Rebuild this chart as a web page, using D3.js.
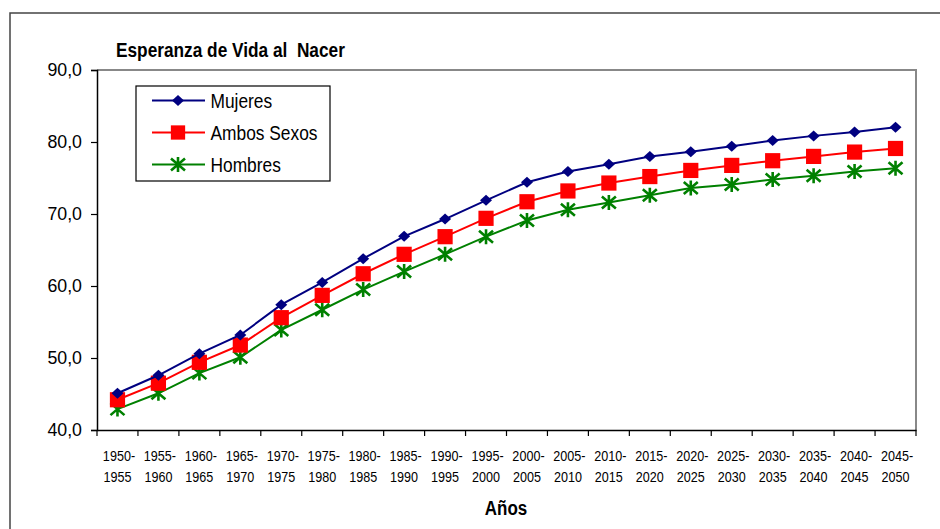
<!DOCTYPE html>
<html><head><meta charset="utf-8">
<script src="https://cdn.jsdelivr.net/npm/d3@7"></script>
<style>
body{margin:0;background:#fff;}
svg{display:block;}
text{font-family:"Liberation Sans",Arial,sans-serif;fill:#000;white-space:pre;}
</style></head>
<body>
<svg id="chart" width="940" height="529"></svg>
<script>
const categories = ["1950-1955","1955-1960","1960-1965","1965-1970","1970-1975","1975-1980","1980-1985","1985-1990","1990-1995","1995-2000","2000-2005","2005-2010","2010-2015","2015-2020","2020-2025","2025-2030","2030-2035","2035-2040","2040-2045","2045-2050"];
const mujeres = [45.1,47.6,50.6,53.2,57.4,60.5,63.8,66.9,69.3,71.9,74.4,75.9,76.9,78.0,78.65,79.4,80.2,80.85,81.4,82.05];
const ambos   = [44.2,46.5,49.4,51.8,55.6,58.7,61.7,64.4,66.85,69.4,71.7,73.2,74.3,75.2,76.05,76.75,77.4,78.0,78.6,79.1];
const hombres = [42.9,45.1,47.9,50.1,53.9,56.7,59.5,62.0,64.4,66.85,69.1,70.6,71.6,72.6,73.6,74.1,74.8,75.3,75.9,76.35];
const yTicks = [40,50,60,70,80,90];
const seriesNames = ["Mujeres","Ambos Sexos","Hombres"];

const svg = d3.select("#chart");
const M = {left:97, right:916, top:70, bottom:430};

function txt(g, x, y, s, size, sx, anchor, weight){
  return g.append("text").attr("transform",`translate(${x},${y}) scale(${sx},1)`)
    .attr("font-size",size).attr("text-anchor",anchor||"start").attr("font-weight",weight||"normal").text(s);
}

// outer frame
svg.append("rect").attr("x",10).attr("y",13).attr("width",940).attr("height",530)
  .attr("fill","none").attr("stroke","#444").attr("stroke-width",1.5);

const x = d3.scaleBand().domain(categories).range([M.left,M.right]).padding(0);
const y = d3.scaleLinear().domain([40,90]).range([M.bottom,M.top]);

// plot area border (top/right gray)
svg.append("path").attr("d",`M${M.left},${M.top}H${M.right}V${M.bottom}`)
  .attr("fill","none").attr("stroke","#888").attr("stroke-width",2);

// title
txt(svg,116,56.5,"Esperanza de Vida al  Nacer",19.5,0.885,"start","bold");

// y axis
const yAxis = svg.append("g").attr("transform",`translate(${M.left},0)`)
  .call(d3.axisLeft(y).tickValues(yTicks).tickSize(6).tickFormat(""));
yAxis.select(".domain").attr("stroke","#000").attr("stroke-width",1.5);
yAxis.selectAll(".tick line").attr("stroke","#000").attr("stroke-width",1.2);
const fmt = d=>d3.format(".1f")(d).replace(".",",");
yTicks.forEach(t=>txt(svg,82,y(t)+6,fmt(t),18.5,0.96,"end"));

// x axis
const xAxis = svg.append("g").attr("transform",`translate(0,${M.bottom})`)
  .call(d3.axisBottom(x).tickSize(0).tickFormat(""));
xAxis.select(".domain").attr("stroke","#000").attr("stroke-width",1.5);
const bounds = categories.map(c=>x(c)).concat([M.right]);
xAxis.selectAll(".bt").data(bounds).enter().append("line").attr("class","bt")
  .attr("x1",d=>d).attr("x2",d=>d).attr("y1",0).attr("y2",6).attr("stroke","#000").attr("stroke-width",1.2);
const lab = svg.append("g");
categories.forEach(c=>{
  const [a,b] = c.split("-");
  const cx = x(c)+x.bandwidth()/2;
  txt(lab,cx+1.5,461,a+"-",15,0.84,"middle");
  txt(lab,cx,482,b,15,0.84,"middle");
});
txt(svg,506,515,"Años",19.5,0.87,"middle","bold");

const colors = ["#000080","#FF0000","#008000"];
const data = [mujeres, ambos, hombres];
const line = d3.line().x((d,i)=>x(categories[i])+x.bandwidth()/2).y(d=>y(d));

function marker(g, k, cx, cy, s){
  s = s || 1;
  if(k===0){
    g.append("path").attr("d",`M${cx},${cy-5.5}L${cx+6},${cy}L${cx},${cy+5.5}L${cx-6},${cy}Z`).attr("fill",colors[0]);
  } else if(k===1){
    const h = 7.6*s;
    g.append("rect").attr("x",cx-h).attr("y",cy-h).attr("width",2*h).attr("height",2*h).attr("fill",colors[1]);
  } else {
    g.append("path").attr("d",`M${cx-7},${cy-6}L${cx+7},${cy+6}M${cx-7},${cy+6}L${cx+7},${cy-6}M${cx},${cy-7.5}V${cy+7.5}`)
      .attr("stroke",colors[2]).attr("stroke-width",2.6).attr("fill","none");
  }
}

[2,1,0].forEach(k=>{
  const g = svg.append("g");
  g.append("path").datum(data[k]).attr("d",line).attr("fill","none").attr("stroke",colors[k]).attr("stroke-width",2);
  data[k].forEach((v,i)=>marker(g,k,x(categories[i])+x.bandwidth()/2,y(v)));
});

// legend
const lg = svg.append("g");
lg.append("rect").attr("x",136).attr("y",86).attr("width",194).attr("height",95).attr("fill","#fff").attr("stroke","#000").attr("stroke-width",1.2);
seriesNames.forEach((n,k)=>{
  const ly = 100.5 + k*32;
  lg.append("line").attr("x1",152).attr("x2",205).attr("y1",ly).attr("y2",ly).attr("stroke",colors[k]).attr("stroke-width",2);
  marker(lg,k,178,ly,0.94);
  txt(lg,210.5,ly+7.5,n,19.5,0.89,"start");
});
</script>
</body></html>
